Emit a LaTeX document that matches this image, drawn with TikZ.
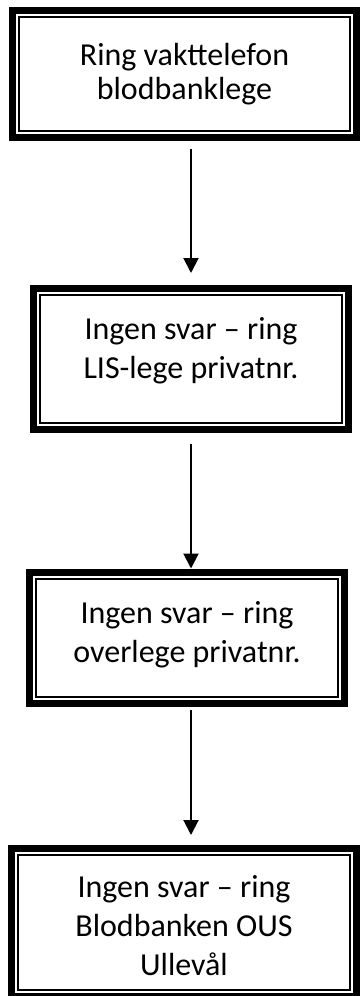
\documentclass[tikz,border=0pt]{standalone}
\usepackage{fontspec}
\setmainfont{Carlito}
\usetikzlibrary{
    arrows.meta,
    positioning
}

\tikzset{
    frame/.style={draw, line width=3.5pt, inner sep=0pt, outer sep=0pt},
    note/.style={align=center, inner sep=0pt, font=\fontsize{16}{19.5}\selectfont},
    flow/.style={line width=1pt, -{Triangle[width=7.5pt,length=7.5pt]}}
}

\begin{document}
\begin{tikzpicture}[x=0.5pt,y=-0.5pt]
    \useasboundingbox (0,0) rectangle (359,996);
    % the four boxes, top to bottom
    \node[frame, minimum width=172pt, minimum height=63.25pt,
        label={[note, font=\fontsize{16}{17}\selectfont]center:{Ring vakttelefon\\blodbanklege}}] (ring) at (184.5,73.75) {};
    \node[frame, minimum width=157.5pt, minimum height=70.5pt,
        label={[note, yshift=4pt]center:{Ingen svar -- ring\\LIS-lege privatnr.}}] (lis) at (191,359) {};
    \node[frame, minimum width=157.5pt, minimum height=65.5pt,
        label={[note, yshift=1.75pt]center:{Ingen svar -- ring\\overlege privatnr.}}] (overlege) at (187,638) {};
    \node[frame, minimum width=172.5pt, minimum height=74pt,
        label={[note, yshift=-1.75pt]center:{Ingen svar -- ring\\Blodbanken OUS\\Ullevål}}] (ous) at (184,922.5) {};
    % thin inner line of each frame
    \foreach \n in {ring,lis,overlege,ous}
        \draw[line width=0.9pt] ([shift={(3.2pt,3.2pt)}]\n.south west) rectangle ([shift={(-3.2pt,-3.2pt)}]\n.north east);
    % arrows
    \coordinate (spine) at (191,0);
    \foreach \a/\b/\s/\e in {ring/lis/6pt/7.75pt, lis/overlege/7.25pt/2pt, overlege/ous/3.25pt/6.75pt}
        \draw[flow, shorten <=\s, shorten >=\e] (\a.south -| spine) -- (\b.north -| spine);
\end{tikzpicture}
\end{document}
